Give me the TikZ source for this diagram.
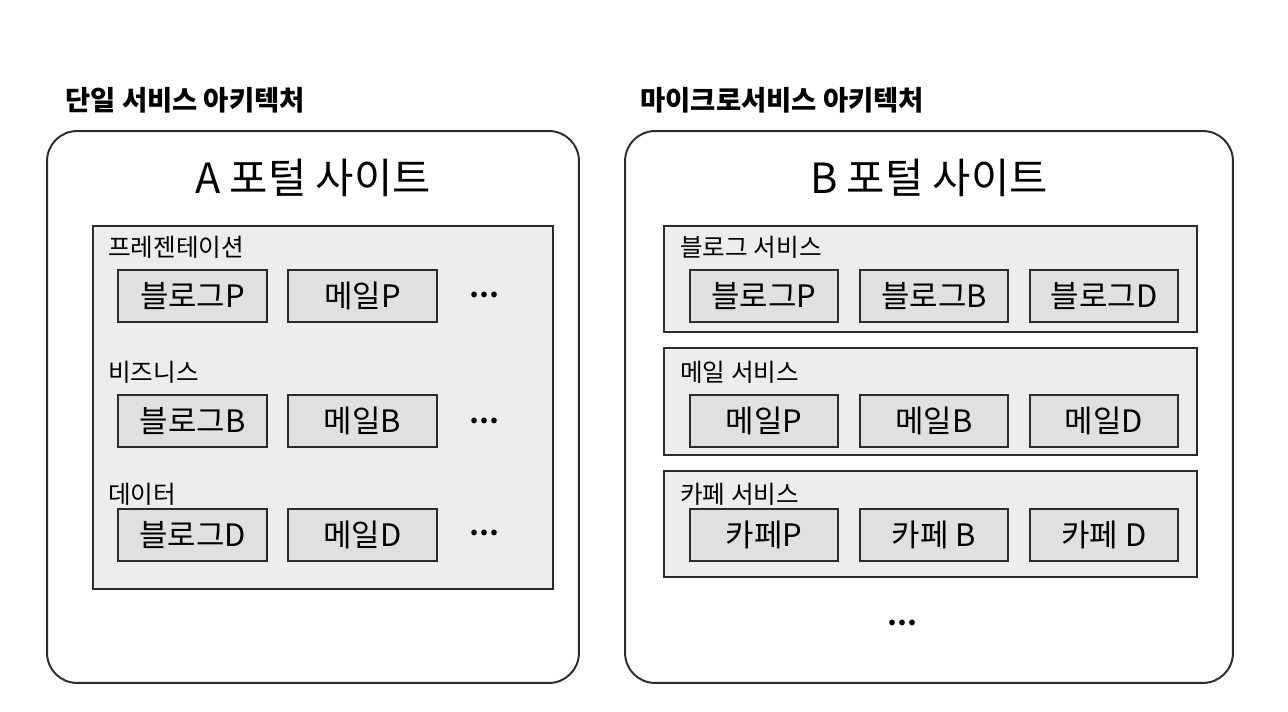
\documentclass[tikz,border=0pt]{standalone}
\usepackage{fontspec}
\setmainfont{Noto Sans CJK KR}
\usetikzlibrary{positioning}

\definecolor{edge}{HTML}{2B2B2B}
\definecolor{layerfill}{HTML}{EDEDED}
\definecolor{compfill}{HTML}{E0E0E0}

\tikzset{
  heading/.style={anchor=west, inner sep=0pt, font=\fontsize{15.6}{17}\selectfont\bfseries},
  site/.style={draw=edge, line width=1.1pt, rounded corners=0.6cm, minimum height=11.04cm},
  sitename/.style={inner sep=0pt, font=\fontsize{23.7}{26}\selectfont},
  layer/.style={draw=edge, line width=1pt, fill=layerfill},
  lbl/.style={anchor=west, inner sep=0pt, font=\fontsize{14}{16}\selectfont},
  comp/.style={draw=edge, line width=1pt, fill=compfill, inner sep=0pt,
    minimum height=1.04cm, font=\fontsize{17.6}{19}\selectfont},
  more/.style={inner sep=0pt, font=\fontsize{15}{17}\selectfont\bfseries}
}

\begin{document}
\begin{tikzpicture}[x=0.02cm, y=-0.02cm]
\useasboundingbox (0,0) rectangle (1288,712);

% titles
\node[heading] (monoT) at (65,100) {단일 서비스 아키텍처};
\node[heading] (msaT) at (640,100) {마이크로서비스 아키텍처};

% single service
\node[site, minimum width=10.64cm] (siteA) at (313,407) {};
\node[sitename] (siteAT) at (313,178) {A 포털 사이트};
\node[layer, minimum width=9.2cm, minimum height=7.26cm] (mono) at (323,407.5) {};
\node[lbl] (presL) at (108,247) {프레젠테이션};
\node[lbl] (bizL) at (108,372) {비즈니스};
\node[lbl] (dataL) at (108,494) {데이터};
\node[comp, minimum width=2.98cm] (blogP) at (192.5,296) {블로그P};
\node[comp, minimum width=2.98cm] (mailP) at (362.5,296) {메일P};
\node[comp, minimum width=2.98cm] (blogB) at (192.5,421) {블로그B};
\node[comp, minimum width=2.98cm] (mailB) at (362.5,421) {메일B};
\node[comp, minimum width=2.98cm] (blogD) at (192.5,535) {블로그D};
\node[comp, minimum width=2.98cm] (mailD) at (362.5,535) {메일D};
\node[more] (moreP) at (484,295) {…};
\node[more] (moreB) at (484,421) {…};
\node[more] (moreD) at (484,533) {…};

% microservices
\node[site, minimum width=12.16cm] (siteB) at (929,407) {};
\node[sitename] (siteBT) at (929,178) {B 포털 사이트};
\node[layer, minimum width=10.66cm, minimum height=2.12cm] (blogS) at (930.5,279) {};
\node[layer, minimum width=10.66cm, minimum height=2.14cm] (mailS) at (930.5,401.5) {};
\node[layer, minimum width=10.66cm, minimum height=2.12cm] (cafeS) at (930.5,524) {};
\node[lbl] (blogL) at (680,247) {블로그 서비스};
\node[lbl] (mailL) at (680,372) {메일 서비스};
\node[lbl] (cafeL) at (680,494) {카페 서비스};
\node[comp, minimum width=2.96cm] (sBlogP) at (764,296) {블로그P};
\node[comp, minimum width=2.96cm] (sBlogB) at (934,296) {블로그B};
\node[comp, minimum width=2.96cm] (sBlogD) at (1104,296) {블로그D};
\node[comp, minimum width=2.96cm] (sMailP) at (764,421) {메일P};
\node[comp, minimum width=2.96cm] (sMailB) at (934,421) {메일B};
\node[comp, minimum width=2.96cm] (sMailD) at (1104,421) {메일D};
\node[comp, minimum width=2.96cm] (sCafeP) at (764,535) {카페P};
\node[comp, minimum width=2.96cm] (sCafeB) at (934,535) {카페 B};
\node[comp, minimum width=2.96cm] (sCafeD) at (1104,535) {카페 D};
\node[more] (moreS) at (902,623) {…};
\end{tikzpicture}
\end{document}
